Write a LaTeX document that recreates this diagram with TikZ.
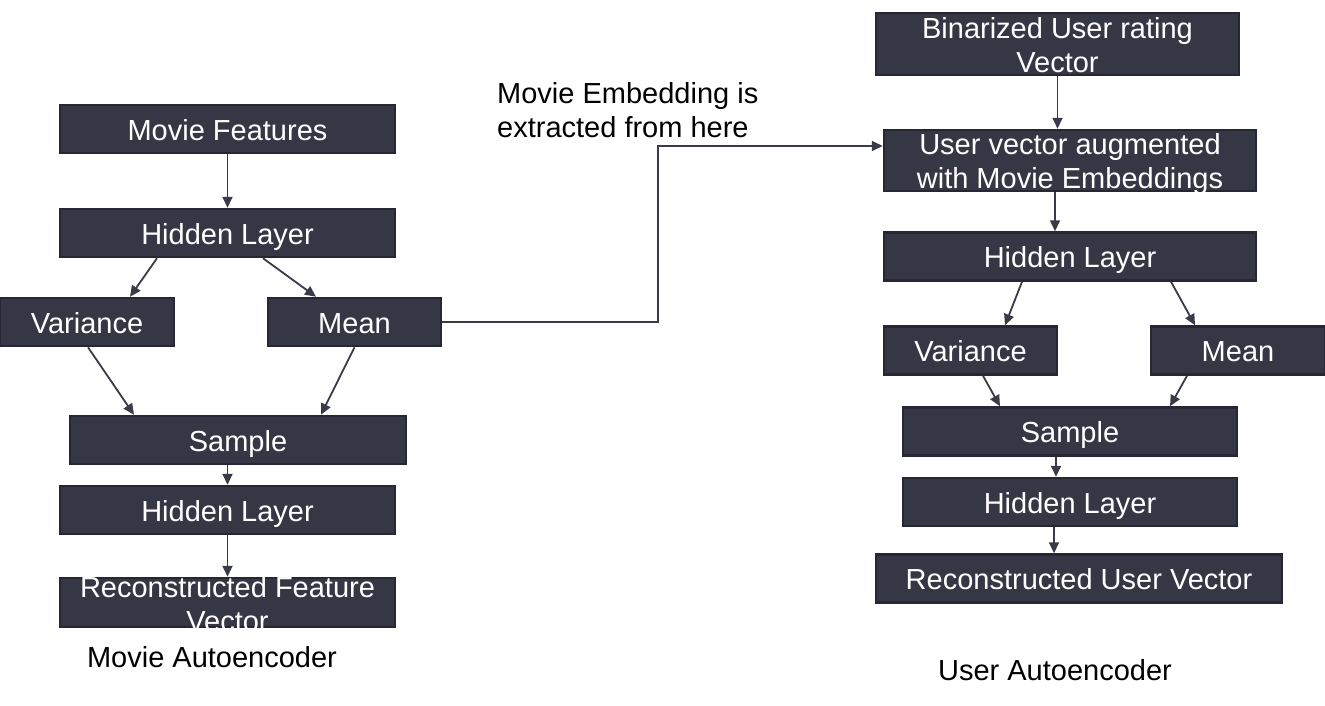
\documentclass[tikz,border=0pt]{standalone}
\usepackage{fontspec}
\setmainfont{Liberation Sans}
\usetikzlibrary{arrows.meta}
\definecolor{boxfill}{RGB}{54,55,69}
\definecolor{boxline}{RGB}{38,39,50}
\definecolor{linkc}{RGB}{58,59,72}

\begin{document}
\begin{tikzpicture}[x=1pt,y=-1pt,
  box/.style={draw=boxline,line width=2.5pt,fill=boxfill,text=white,inner sep=0pt,minimum height=48pt,text height=22pt,text depth=0pt,align=center,font=\fontsize{29}{34}\selectfont},
  boxtext/.style={text=white,inner sep=0pt,align=center,font=\fontsize{29}{34}\selectfont},
  note/.style={inner sep=0pt,align=left,font=\fontsize{29}{34}\selectfont},
  link/.style={linkc,line width=1.8pt,-{Triangle[length=11pt,width=10pt]}}]
\useasboundingbox (0,0) rectangle (1325,705);
% movie autoencoder
\node[box,minimum width=335pt] (mf) at (227.5,129) {Movie Features};
\node[box,minimum width=335pt] (mh1) at (227.5,233) {Hidden Layer};
\node[box,minimum width=174pt] (mv) at (87,322) {Variance};
\node[box,minimum width=173pt] (mm) at (354.5,322) {Mean};
\node[box,minimum width=336pt] (ms) at (238,440) {Sample};
\node[box,minimum width=335pt] (mh2) at (227.5,510) {Hidden Layer};
\node[box,minimum width=335pt,minimum height=49pt] (mr) at (227.5,602.5) {};
\node[boxtext] (mrt) at ([yshift=-1.5pt]mr) {Reconstructed Feature\\Vector};
\node[note] (mcap) at (212,657) {Movie Autoencoder};
% user autoencoder
\node[box,minimum width=363pt,minimum height=62pt] (ub) at (1057.5,44) {};
\node[boxtext] (ubt) at ([yshift=-1pt]ub) {Binarized User rating\\Vector};
\node[box,minimum width=372pt,minimum height=61pt] (ua) at (1070,160.5) {};
\node[boxtext] (uat) at ([yshift=-3pt]ua) {User vector augmented\\with Movie Embeddings};
\node[box,minimum width=372pt] (uh1) at (1070,256.5) {Hidden Layer};
\node[box,minimum width=173pt] (uv) at (970.5,350.5) {Variance};
\node[box,minimum width=174pt] (um) at (1238,350.5) {Mean};
\node[box,minimum width=334pt] (us) at (1070,431.5) {Sample};
\node[box,minimum width=334pt] (uh2) at (1070,502) {Hidden Layer};
\node[box,minimum width=406pt] (ur) at (1079,578.5) {Reconstructed User Vector};
\node[note] (ucap) at (1055,670) {User Autoencoder};
\node[note,anchor=west] (emb) at (497,110) {Movie Embedding is\\extracted from here};
% links
\draw[link] (mf) -- (mh1);
\draw[link] ([xshift=-70.5pt]mh1.south) -- ([xshift=43pt]mv.north);
\draw[link] ([xshift=35.5pt]mh1.south) -- ([xshift=-38.5pt]mm.north);
\draw[link] ([xshift=1pt]mv.south) -- ([xshift=-104pt]ms.north);
\draw[link] (mm.south) -- ([xshift=83pt]ms.north);
\draw[link] (ms.south -| mh2.north) -- (mh2.north);
\draw[link] (mh2) -- (mr);
\coordinate (bend) at (658,146);
\draw[link] (mm.east) -| (bend) -- (ua.west |- bend);
\draw[link] (ub.south) -- (ub.south |- ua.north);
\draw[link] ([xshift=-15pt]ua.south) -- ([xshift=-15pt]uh1.north);
\draw[link] ([xshift=-48pt]uh1.south) -- ([xshift=34.5pt]uv.north);
\draw[link] ([xshift=101pt]uh1.south) -- ([xshift=-43pt]um.north);
\draw[link] ([xshift=12.5pt]uv.south) -- ([xshift=-70pt]us.north);
\draw[link] ([xshift=-51pt]um.south) -- ([xshift=100pt]us.north);
\draw[link] ([xshift=-14pt]us.south) -- ([xshift=-14pt]uh2.north);
\draw[link] ([xshift=-16pt]uh2.south) -- ([xshift=-25pt]ur.north);
\end{tikzpicture}
\end{document}
